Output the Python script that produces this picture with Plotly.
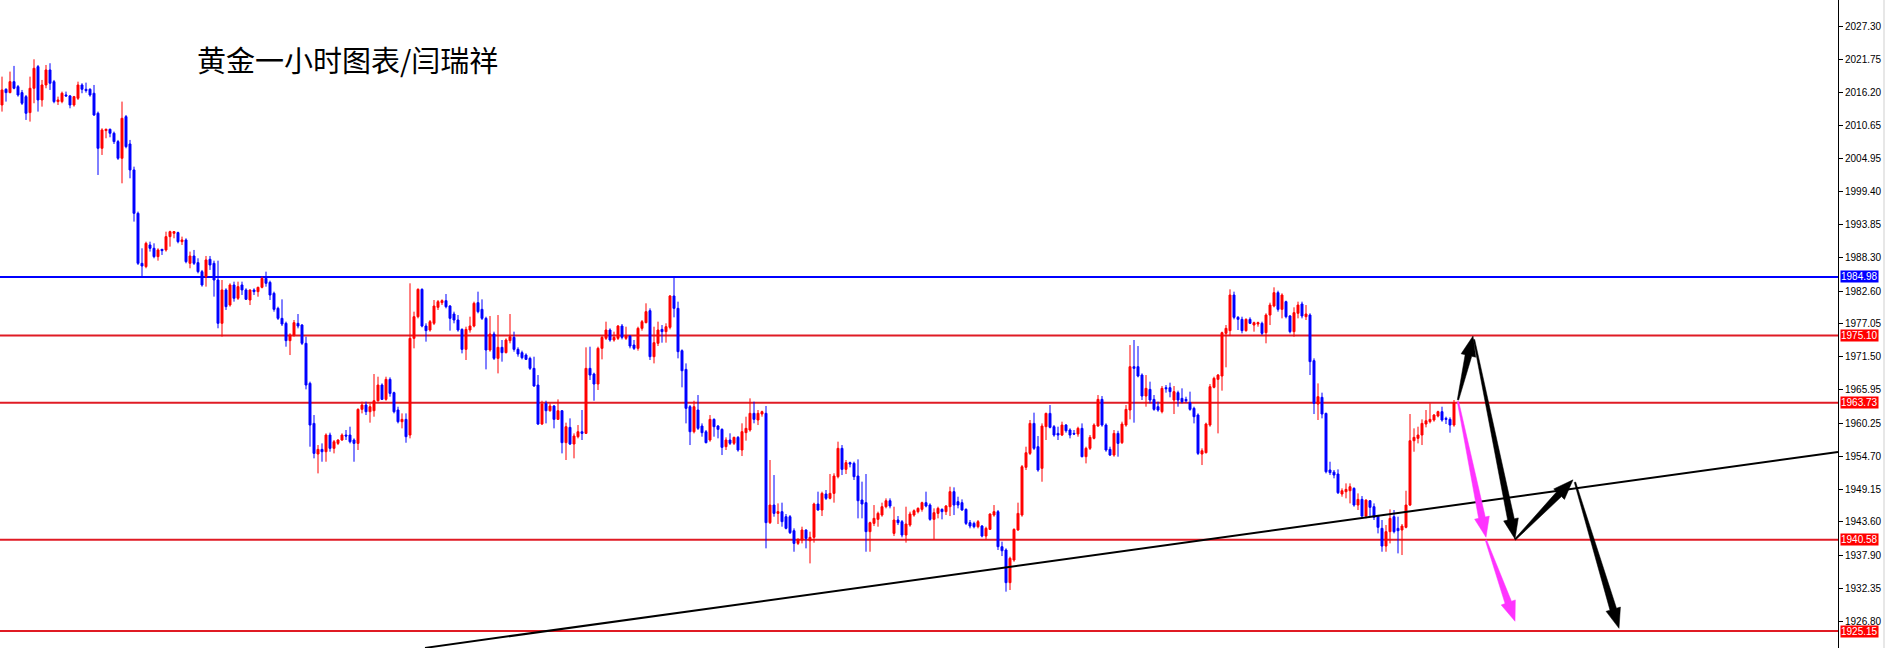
import plotly.graph_objects as go

# ---------------- data ----------------
opens = [2014.05, 2016.70, 2016.14, 2017.99, 2017.15, 2016.14, 2015.46, 2012.76, 2016.87, 2020.53,
         2014.90, 2017.43, 2019.97, 2017.99, 2014.62, 2014.62, 2015.74, 2015.58, 2014.05, 2015.18,
         2017.43, 2016.70, 2016.70, 2016.03, 2012.65, 2006.73, 2009.72, 2009.94, 2009.27, 2007.86,
         2005.04, 2012.08, 2007.46, 2003.07, 1995.74, 1987.29, 1986.73, 1990.39, 1989.83, 1988.42,
         1989.66, 1989.55, 1991.80, 1992.36, 1992.48, 1990.95, 1991.24, 1987.29, 1988.53, 1987.40,
         1985.88, 1985.04, 1987.97, 1987.29, 1984.47, 1977.15, 1982.79, 1980.25, 1983.63, 1981.38,
         1983.63, 1982.79, 1981.09, 1982.78, 1982.50, 1983.23, 1984.75, 1984.07, 1982.22, 1979.68,
         1977.99, 1977.15, 1974.22, 1975.17, 1977.15, 1976.86, 1973.77, 1967.00, 1960.24, 1955.06,
         1955.85, 1955.45, 1958.27, 1956.02, 1956.86, 1957.43, 1958.27, 1958.27, 1957.43, 1956.86,
         1962.61, 1963.34, 1962.21, 1962.38, 1964.07, 1966.72, 1964.30, 1967.68, 1965.43, 1962.50,
         1960.52, 1960.92, 1958.27, 1974.61, 1978.27, 1982.89, 1976.69, 1976.02, 1977.15, 1979.85,
         1980.64, 1980.98, 1980.07, 1978.72, 1977.71, 1976.13, 1972.75, 1976.02, 1976.69, 1980.64,
         1979.51, 1977.99, 1972.64, 1975.34, 1971.23, 1973.09, 1972.19, 1974.22, 1974.78, 1972.75,
         1972.19, 1971.79, 1971.23, 1969.54, 1966.72, 1960.13, 1963.62, 1962.38, 1963.17, 1960.92,
         1962.38, 1956.98, 1959.57, 1956.75, 1957.99, 1958.83, 1958.55, 1969.54, 1968.58, 1966.89,
         1972.92, 1974.61, 1976.02, 1974.33, 1974.61, 1976.69, 1974.61, 1975.00, 1973.48, 1972.92,
         1976.30, 1977.26, 1979.29, 1971.51, 1973.77, 1976.13, 1975.74, 1976.47, 1981.77, 1979.68,
         1972.53, 1969.37, 1963.06, 1958.83, 1962.50, 1959.79, 1958.83, 1957.43, 1960.92, 1959.79,
         1959.23, 1956.30, 1957.43, 1956.87, 1957.88, 1955.74, 1958.67, 1959.12, 1961.94, 1960.81,
         1961.82, 1961.94, 1943.46, 1946.44, 1945.03, 1945.32, 1944.47, 1944.47, 1942.10, 1939.96,
         1940.53, 1942.22, 1940.41, 1940.98, 1946.61, 1945.60, 1948.30, 1947.57, 1948.41, 1951.23,
         1956.02, 1952.47, 1953.60, 1953.49, 1951.34, 1947.29, 1946.84, 1941.94, 1943.34, 1944.02,
         1944.75, 1946.16, 1947.17, 1941.65, 1943.91, 1943.63, 1941.37, 1943.06, 1944.75, 1945.32,
         1945.71, 1946.84, 1946.44, 1944.02, 1945.03, 1945.71, 1945.32, 1946.16, 1948.70, 1947.01,
         1946.84, 1945.71, 1943.46, 1943.34, 1942.78, 1942.89, 1941.20, 1942.33, 1944.75, 1945.32,
         1939.40, 1938.84, 1933.32, 1937.15, 1942.22, 1944.75, 1952.81, 1955.17, 1960.24, 1956.30,
         1952.64, 1959.68, 1961.93, 1959.68, 1958.55, 1958.27, 1959.96, 1959.12, 1958.55, 1958.44,
         1959.40, 1954.61, 1956.02, 1957.71, 1959.79, 1964.30, 1959.96, 1955.85, 1954.89, 1958.55,
         1956.98, 1959.96, 1962.50, 1969.82, 1969.82, 1968.41, 1964.86, 1965.99, 1964.30, 1963.06,
         1962.22, 1966.27, 1966.27, 1964.19, 1965.43, 1964.47, 1964.30, 1963.74, 1962.78, 1961.65,
         1955.06, 1955.28, 1959.96, 1966.33, 1967.68, 1968.24, 1975.46, 1975.91, 1981.93, 1978.16,
         1977.82, 1975.91, 1977.82, 1976.86, 1977.03, 1977.15, 1975.57, 1978.55, 1980.08, 1982.33,
         1979.51, 1980.81, 1978.39, 1975.74, 1978.84, 1980.41, 1978.27, 1978.55, 1970.84, 1963.51,
         1964.64, 1961.93, 1952.36, 1952.00, 1951.68, 1948.30, 1948.69, 1948.86, 1949.26, 1946.44,
         1947.40, 1944.58, 1947.17, 1946.16, 1944.58, 1942.50, 1939.51, 1941.94, 1944.47, 1942.50,
         1942.22, 1942.67, 1946.44, 1957.31, 1957.71, 1958.27, 1960.13, 1960.53, 1960.81, 1961.48,
         1962.22, 1961.09, 1960.92, 1959.96]

highs = [2018.84, 2016.87, 2019.69, 2020.65, 2017.43, 2016.59, 2015.74, 2018.84, 2021.77, 2020.81,
         2018.28, 2020.81, 2021.10, 2018.28, 2015.46, 2016.31, 2016.31, 2015.74, 2015.58, 2017.99,
         2017.72, 2017.83, 2016.87, 2017.43, 2012.93, 2010.11, 2010.05, 2010.05, 2009.55, 2008.14,
         2014.62, 2012.36, 2008.14, 2003.63, 1996.03, 1989.83, 1990.95, 1990.95, 1990.67, 1989.83,
         1989.66, 1992.64, 1992.80, 1992.75, 1992.64, 1991.80, 1991.52, 1989.27, 1989.55, 1988.14,
         1986.17, 1988.53, 1988.53, 1987.74, 1987.74, 1984.47, 1983.07, 1983.91, 1984.19, 1984.19,
         1984.19, 1983.07, 1982.89, 1983.06, 1983.34, 1985.03, 1985.88, 1984.36, 1982.50, 1979.96,
         1981.20, 1977.43, 1975.46, 1977.71, 1978.72, 1977.03, 1974.89, 1967.29, 1961.65, 1956.58,
         1956.86, 1958.55, 1958.67, 1957.43, 1957.54, 1958.55, 1959.12, 1959.68, 1957.71, 1962.78,
         1963.91, 1963.91, 1963.62, 1968.58, 1968.13, 1967.00, 1968.13, 1968.02, 1965.60, 1963.06,
         1961.93, 1961.93, 1983.91, 1979.12, 1983.06, 1983.06, 1977.15, 1977.71, 1981.09, 1981.09,
         1981.20, 1982.10, 1980.24, 1979.12, 1978.55, 1976.30, 1976.58, 1978.27, 1980.81, 1982.50,
         1981.20, 1978.27, 1978.38, 1975.74, 1978.55, 1974.33, 1974.61, 1978.72, 1975.74, 1973.09,
         1972.53, 1972.07, 1971.51, 1971.51, 1968.41, 1964.07, 1964.07, 1963.62, 1963.34, 1964.30,
         1962.50, 1960.36, 1961.09, 1958.55, 1959.96, 1962.50, 1973.09, 1973.20, 1968.81, 1973.20,
         1975.00, 1977.43, 1976.30, 1975.74, 1976.86, 1977.03, 1976.58, 1975.17, 1974.33, 1976.58,
         1977.71, 1980.53, 1979.68, 1976.58, 1977.43, 1976.86, 1977.15, 1981.93, 1985.03, 1980.81,
         1972.75, 1970.38, 1963.34, 1964.07, 1965.03, 1960.24, 1959.12, 1961.65, 1961.09, 1959.96,
         1959.40, 1957.88, 1958.56, 1957.99, 1958.10, 1960.25, 1961.37, 1964.47, 1963.91, 1962.50,
         1962.39, 1963.18, 1954.05, 1951.51, 1946.72, 1946.84, 1944.92, 1944.75, 1942.50, 1940.81,
         1942.78, 1942.33, 1941.94, 1946.84, 1948.70, 1948.70, 1948.98, 1951.68, 1951.80, 1957.15,
         1956.58, 1954.05, 1953.77, 1953.77, 1954.16, 1950.39, 1951.68, 1943.63, 1946.44, 1945.32,
         1946.84, 1947.57, 1947.57, 1946.16, 1944.58, 1943.91, 1946.16, 1945.32, 1945.71, 1946.05,
         1947.01, 1948.70, 1946.72, 1945.88, 1946.16, 1945.88, 1946.44, 1949.54, 1949.43, 1947.85,
         1947.40, 1945.88, 1943.91, 1943.63, 1943.91, 1943.06, 1942.78, 1945.03, 1946.44, 1945.60,
         1940.25, 1939.12, 1937.71, 1942.50, 1946.84, 1953.20, 1956.30, 1960.81, 1962.05, 1958.10,
         1960.24, 1962.05, 1963.34, 1959.96, 1959.68, 1960.53, 1960.13, 1959.40, 1959.12, 1959.68,
         1960.24, 1956.30, 1958.27, 1960.24, 1965.03, 1964.86, 1960.24, 1956.30, 1959.12, 1959.00,
         1960.53, 1963.34, 1973.48, 1974.33, 1973.31, 1968.69, 1968.41, 1967.29, 1965.03, 1963.91,
         1966.55, 1966.72, 1967.12, 1966.55, 1965.77, 1966.16, 1964.75, 1965.60, 1963.06, 1961.93,
         1956.02, 1960.36, 1966.89, 1968.13, 1968.58, 1975.74, 1976.86, 1982.89, 1982.50, 1978.38,
         1978.27, 1977.99, 1978.16, 1977.43, 1977.43, 1977.43, 1978.84, 1980.64, 1983.23, 1982.67,
         1982.22, 1980.98, 1978.55, 1979.85, 1980.81, 1980.81, 1980.24, 1978.84, 1971.23, 1967.00,
         1965.43, 1962.05, 1953.76, 1952.36, 1952.47, 1949.26, 1950.10, 1950.10, 1949.43, 1948.41,
         1947.96, 1947.40, 1947.28, 1946.72, 1944.75, 1943.91, 1943.06, 1945.71, 1945.60, 1944.47,
         1943.23, 1948.86, 1961.82, 1959.40, 1959.68, 1960.92, 1962.50, 1963.62, 1961.82, 1962.38,
         1963.06, 1961.37, 1961.26, 1964.19]

lows = [2012.93, 2014.62, 2016.03, 2016.70, 2015.46, 2014.05, 2011.52, 2011.24, 2014.34, 2012.93,
        2013.77, 2016.87, 2016.59, 2014.34, 2014.05, 2014.34, 2015.46, 2013.49, 2013.77, 2014.90,
        2016.03, 2016.14, 2015.46, 2012.19, 2002.22, 2005.60, 2008.42, 2008.59, 2007.46, 2004.76,
        2000.81, 2006.73, 2001.66, 1994.34, 1987.01, 1985.04, 1986.45, 1989.27, 1988.14, 1987.74,
        1988.70, 1989.27, 1990.11, 1991.52, 1990.67, 1990.39, 1987.29, 1986.45, 1987.01, 1985.60,
        1983.35, 1983.35, 1986.17, 1981.66, 1976.31, 1974.90, 1979.41, 1979.97, 1980.81, 1981.10,
        1981.94, 1981.10, 1980.24, 1981.93, 1981.65, 1983.06, 1983.34, 1981.09, 1979.12, 1977.71,
        1976.69, 1973.20, 1971.79, 1974.89, 1976.30, 1973.48, 1965.99, 1956.30, 1954.33, 1951.79,
        1953.76, 1953.76, 1955.45, 1955.17, 1956.58, 1957.31, 1957.43, 1956.86, 1953.76, 1955.74,
        1961.93, 1961.65, 1960.36, 1961.37, 1963.91, 1964.19, 1964.07, 1964.75, 1961.93, 1960.24,
        1959.40, 1956.97, 1957.71, 1972.92, 1977.99, 1976.47, 1974.05, 1975.74, 1976.86, 1979.40,
        1980.24, 1979.68, 1975.91, 1977.15, 1975.74, 1972.07, 1970.95, 1975.57, 1976.47, 1978.84,
        1977.71, 1969.37, 1972.36, 1970.95, 1968.69, 1970.67, 1972.07, 1973.77, 1972.36, 1971.51,
        1971.06, 1970.95, 1969.26, 1966.44, 1959.96, 1959.96, 1960.24, 1962.22, 1959.40, 1960.81,
        1955.17, 1954.05, 1956.58, 1954.33, 1957.71, 1957.43, 1958.44, 1967.57, 1964.07, 1965.88,
        1971.06, 1974.33, 1974.05, 1974.05, 1974.33, 1974.44, 1974.33, 1972.92, 1972.64, 1972.53,
        1975.91, 1977.15, 1970.95, 1970.38, 1973.31, 1973.88, 1973.88, 1976.13, 1978.16, 1971.23,
        1966.33, 1960.24, 1956.58, 1958.55, 1959.12, 1957.99, 1956.86, 1957.14, 1957.99, 1957.71,
        1954.89, 1955.74, 1956.58, 1956.58, 1955.46, 1954.72, 1957.32, 1958.84, 1960.25, 1959.96,
        1961.37, 1939.12, 1943.23, 1944.47, 1943.23, 1942.78, 1942.33, 1941.54, 1938.55, 1939.68,
        1939.96, 1939.12, 1936.58, 1940.08, 1945.48, 1944.58, 1947.29, 1947.40, 1946.84, 1950.95,
        1951.51, 1951.68, 1952.81, 1950.67, 1944.19, 1944.19, 1938.55, 1938.55, 1942.89, 1942.78,
        1944.47, 1945.88, 1945.88, 1941.20, 1943.06, 1940.98, 1940.08, 1942.78, 1944.47, 1945.03,
        1945.32, 1946.05, 1943.79, 1940.64, 1944.19, 1944.02, 1944.75, 1944.58, 1944.75, 1945.88,
        1945.48, 1943.06, 1942.50, 1942.50, 1942.50, 1940.98, 1940.53, 1942.22, 1944.47, 1938.84,
        1937.82, 1931.80, 1932.08, 1936.86, 1942.10, 1944.47, 1952.36, 1954.89, 1955.74, 1952.07,
        1950.38, 1957.43, 1959.40, 1957.99, 1957.43, 1958.10, 1958.67, 1957.71, 1958.27, 1957.99,
        1954.50, 1953.48, 1955.74, 1957.54, 1959.68, 1959.68, 1955.45, 1954.72, 1954.61, 1954.61,
        1956.75, 1959.68, 1960.92, 1960.36, 1968.02, 1964.19, 1963.06, 1963.62, 1962.38, 1962.22,
        1961.93, 1965.43, 1964.64, 1961.82, 1963.06, 1963.62, 1963.74, 1962.38, 1960.24, 1954.89,
        1953.20, 1955.17, 1959.68, 1966.16, 1958.55, 1965.77, 1969.71, 1975.00, 1977.82, 1976.02,
        1975.46, 1975.74, 1977.03, 1975.74, 1976.58, 1975.17, 1973.77, 1976.86, 1979.85, 1979.12,
        1977.99, 1977.99, 1975.46, 1974.89, 1977.99, 1977.99, 1977.71, 1968.41, 1961.82, 1960.81,
        1961.09, 1951.79, 1951.51, 1950.95, 1948.30, 1947.85, 1947.57, 1946.72, 1946.16, 1945.60,
        1944.36, 1944.19, 1944.47, 1943.91, 1941.65, 1938.55, 1938.55, 1939.96, 1941.65, 1938.27,
        1937.99, 1942.50, 1946.27, 1955.45, 1956.86, 1956.58, 1959.57, 1960.24, 1960.53, 1961.26,
        1960.53, 1960.13, 1958.67, 1959.68]

closes = [2016.59, 2016.14, 2017.99, 2016.87, 2015.74, 2014.34, 2012.65, 2016.87, 2020.25, 2014.90,
          2017.43, 2019.97, 2017.72, 2014.62, 2014.90, 2016.03, 2015.58, 2014.05, 2015.46, 2017.43,
          2016.70, 2016.48, 2015.74, 2012.36, 2006.73, 2009.83, 2009.94, 2009.27, 2007.86, 2005.04,
          2011.80, 2007.01, 2003.07, 1995.74, 1987.29, 1986.84, 1990.67, 1989.83, 1988.42, 1989.55,
          1989.43, 1991.80, 1992.64, 1992.64, 1990.95, 1991.24, 1987.57, 1988.53, 1987.29, 1985.88,
          1983.63, 1987.86, 1987.01, 1984.47, 1977.15, 1982.79, 1979.97, 1983.63, 1981.38, 1983.35,
          1982.79, 1981.21, 1982.78, 1982.50, 1983.23, 1984.75, 1983.91, 1981.93, 1979.51, 1977.99,
          1977.03, 1974.22, 1975.17, 1977.26, 1976.69, 1973.77, 1966.72, 1959.96, 1955.17, 1955.85,
          1955.45, 1958.27, 1956.02, 1957.14, 1957.43, 1958.27, 1958.10, 1957.14, 1956.86, 1962.61,
          1963.34, 1962.21, 1963.06, 1964.07, 1966.72, 1964.30, 1967.68, 1965.31, 1962.21, 1960.52,
          1960.92, 1957.99, 1974.61, 1978.27, 1982.89, 1976.69, 1975.91, 1977.43, 1980.07, 1980.81,
          1980.98, 1979.96, 1977.99, 1977.71, 1976.02, 1972.75, 1976.13, 1976.69, 1980.53, 1979.12,
          1977.99, 1972.64, 1975.34, 1971.23, 1973.09, 1972.19, 1974.33, 1974.89, 1972.75, 1971.96,
          1971.34, 1971.06, 1969.54, 1966.55, 1960.13, 1963.51, 1962.38, 1963.17, 1960.92, 1962.38,
          1956.98, 1959.68, 1956.75, 1958.10, 1958.83, 1958.55, 1969.54, 1968.41, 1966.89, 1972.92,
          1974.78, 1976.02, 1974.33, 1974.78, 1976.69, 1974.78, 1975.00, 1973.31, 1972.92, 1976.30,
          1977.43, 1979.12, 1971.51, 1973.88, 1976.02, 1975.74, 1976.58, 1981.77, 1979.68, 1972.36,
          1969.14, 1962.78, 1958.83, 1963.06, 1959.40, 1958.67, 1956.98, 1960.92, 1959.68, 1959.23,
          1956.19, 1957.43, 1956.87, 1957.88, 1955.74, 1958.84, 1959.40, 1961.94, 1960.92, 1961.94,
          1962.22, 1943.46, 1946.44, 1945.03, 1945.32, 1943.63, 1942.50, 1941.77, 1939.96, 1940.64,
          1942.22, 1940.81, 1940.98, 1946.61, 1945.60, 1948.41, 1947.57, 1948.41, 1951.34, 1956.02,
          1952.47, 1953.60, 1953.37, 1951.23, 1947.17, 1946.61, 1941.94, 1943.46, 1944.19, 1945.03,
          1946.16, 1947.17, 1946.27, 1943.91, 1943.46, 1941.37, 1943.23, 1944.92, 1945.48, 1945.88,
          1946.84, 1946.27, 1944.02, 1945.15, 1945.88, 1945.32, 1946.27, 1948.70, 1946.44, 1946.44,
          1945.60, 1943.34, 1942.89, 1942.78, 1943.63, 1941.20, 1942.50, 1944.92, 1945.32, 1939.40,
          1938.72, 1933.32, 1937.43, 1942.33, 1945.03, 1952.92, 1955.28, 1960.24, 1956.02, 1952.36,
          1959.79, 1961.93, 1959.57, 1958.27, 1958.27, 1959.96, 1959.00, 1958.27, 1958.44, 1959.40,
          1954.61, 1956.02, 1957.88, 1959.96, 1964.30, 1959.96, 1955.74, 1954.89, 1958.55, 1956.86,
          1960.13, 1962.61, 1969.82, 1969.54, 1968.24, 1964.86, 1966.16, 1964.19, 1962.61, 1962.50,
          1966.16, 1966.10, 1965.60, 1965.60, 1964.19, 1963.91, 1964.07, 1962.61, 1961.37, 1955.17,
          1955.62, 1960.13, 1966.44, 1967.85, 1968.41, 1975.57, 1976.30, 1981.93, 1978.16, 1977.82,
          1975.91, 1977.82, 1977.15, 1977.26, 1977.26, 1975.46, 1978.55, 1980.24, 1982.33, 1979.51,
          1981.93, 1978.27, 1975.74, 1978.95, 1980.24, 1978.39, 1978.72, 1970.67, 1963.62, 1964.75,
          1961.82, 1952.07, 1951.91, 1951.51, 1948.52, 1948.86, 1949.09, 1949.54, 1946.44, 1947.40,
          1944.58, 1947.28, 1946.05, 1944.36, 1942.67, 1939.51, 1941.94, 1944.19, 1941.94, 1942.10,
          1942.89, 1946.44, 1957.31, 1957.88, 1958.27, 1960.24, 1960.69, 1960.92, 1961.65, 1962.22,
          1960.81, 1960.92, 1959.96, 1963.74]

support_resistance_blue = [1984.98]
support_resistance_red = [1975.10, 1963.73, 1940.58, 1925.15]
tick_values = [2027.30, 2021.75, 2016.20, 2010.65, 2004.95, 1999.40, 1993.85, 1988.30,
               1982.60, 1977.05, 1971.50, 1965.95, 1960.25, 1954.70, 1949.15, 1943.60,
               1937.90, 1932.35, 1926.80]
trend_x = [105.75, 459.0]
trend_y = [1922.3, 1955.4]
# projected path arrows: (tail bar, tail price) -> (tip bar, tip price)
black_arrows = [((364.0, 1964.2), (367.75, 1975.0)),
                ((368.0, 1974.4), (378.25, 1940.7)),
                ((378.25, 1940.6), (392.75, 1950.7)),
                ((393.25, 1950.3), (404.25, 1925.6))]
magenta_arrows = [((364.0, 1963.9), (371.0, 1941.0)),
                  ((371.0, 1940.5), (378.25, 1926.8))]
title_text = "黄金一小时图表/闫瑞祥"

# ---------------- layout constants ----------------
W, H = 1886, 648
MARGIN_R = 48
PLOT_W = W - MARGIN_R
X_RANGE = [-0.5, 459.0]
Y_RANGE = [1922.28, 2031.79]
PX_X = PLOT_W / (X_RANGE[1] - X_RANGE[0])
PX_Y = H / (Y_RANGE[1] - Y_RANGE[0])


def arrow_polygon(tail, tip, head_len=20.0, head_hw=7.5, base_hw=3.4, tail_hw=0.7):
    tx, ty = tail[0] * PX_X, tail[1] * PX_Y
    qx, qy = tip[0] * PX_X, tip[1] * PX_Y
    dx, dy = qx - tx, qy - ty
    L = (dx * dx + dy * dy) ** 0.5
    ux, uy = dx / L, dy / L
    nx, ny = -uy, ux
    bx, by = qx - ux * head_len, qy - uy * head_len
    pts = [(tx + nx * tail_hw, ty + ny * tail_hw),
           (bx + nx * base_hw, by + ny * base_hw),
           (bx + nx * head_hw, by + ny * head_hw),
           (qx, qy),
           (bx - nx * head_hw, by - ny * head_hw),
           (bx - nx * base_hw, by - ny * base_hw),
           (tx - nx * tail_hw, ty - ny * tail_hw)]
    pts.append(pts[0])
    return [p[0] / PX_X for p in pts], [p[1] / PX_Y for p in pts]


fig = go.Figure()

fig.add_trace(go.Candlestick(
    x=list(range(len(opens))), open=opens, high=highs, low=lows, close=closes,
    increasing=dict(line=dict(color="#ff0000", width=1), fillcolor="#ff0000"),
    decreasing=dict(line=dict(color="#0000ff", width=1), fillcolor="#0000ff"),
    whiskerwidth=0, hoverinfo="skip", showlegend=False,
))

fig.add_trace(go.Scatter(x=trend_x, y=trend_y, mode="lines",
                         line=dict(color="black", width=2),
                         hoverinfo="skip", showlegend=False))

for tail, tip in black_arrows:
    xs, ys = arrow_polygon(tail, tip)
    fig.add_trace(go.Scatter(x=xs, y=ys, mode="lines", fill="toself",
                             fillcolor="black", line=dict(color="black", width=0.5),
                             hoverinfo="skip", showlegend=False))
for tail, tip in magenta_arrows:
    xs, ys = arrow_polygon(tail, tip)
    fig.add_trace(go.Scatter(x=xs, y=ys, mode="lines", fill="toself",
                             fillcolor="#ff33ff", line=dict(color="#ff33ff", width=0.5),
                             hoverinfo="skip", showlegend=False))

shapes = []
annotations = []
for v in support_resistance_blue:
    shapes.append(dict(type="line", xref="paper", x0=0, x1=1, yref="y", y0=v, y1=v,
                       line=dict(color="#0000ff", width=2), layer="below"))
    annotations.append(dict(xref="paper", x=1, xanchor="left", xshift=2, yref="y", y=v,
                            text=f"{v:.2f}", showarrow=False, bgcolor="#0000ff",
                            font=dict(color="white", size=10, family="Liberation Sans"),
                            borderpad=0))
for v in support_resistance_red:
    shapes.append(dict(type="line", xref="paper", x0=0, x1=1, yref="y", y0=v, y1=v,
                       line=dict(color="#e01b24", width=2), layer="below"))
    annotations.append(dict(xref="paper", x=1, xanchor="left", xshift=2, yref="y", y=v,
                            text=f"{v:.2f}", showarrow=False, bgcolor="#ff0000",
                            font=dict(color="white", size=10, family="Liberation Sans"),
                            borderpad=0))

shapes.append(dict(type="line", xref="paper", x0=1884 / PLOT_W, x1=1884 / PLOT_W,
                   yref="paper", y0=0, y1=1, line=dict(color="#cfcfcf", width=1)))

annotations.append(dict(xref="paper", yref="paper", x=195 / PLOT_W, y=1 - 59 / H,
                        xanchor="left", yanchor="middle", text=title_text, showarrow=False,
                        font=dict(size=29, color="black", family="Noto Sans CJK SC")))

fig.update_layout(
    width=W, height=H,
    margin=dict(l=0, r=MARGIN_R, t=0, b=0, pad=0),
    paper_bgcolor="white", plot_bgcolor="white",
    showlegend=False,
    shapes=shapes, annotations=annotations,
    xaxis=dict(range=X_RANGE, showticklabels=False, showgrid=False, zeroline=False,
               showline=False, ticks="", rangeslider=dict(visible=False), fixedrange=True),
    yaxis=dict(range=Y_RANGE, side="right", showgrid=False, zeroline=False,
               showline=True, linecolor="black", linewidth=1, mirror=False,
               ticks="outside", ticklen=4, tickcolor="black", tickwidth=1,
               tickmode="array", tickvals=tick_values,
               ticktext=[f"{v:.2f}" for v in tick_values],
               tickfont=dict(size=10, color="black", family="Liberation Sans"),
               fixedrange=True),
    boxgap=0.3, boxgroupgap=0.3,
)

fig.write_html("out.html", config={"displayModeBar": False},
               post_script="document.body.style.margin='0';document.body.style.overflow='hidden';")
